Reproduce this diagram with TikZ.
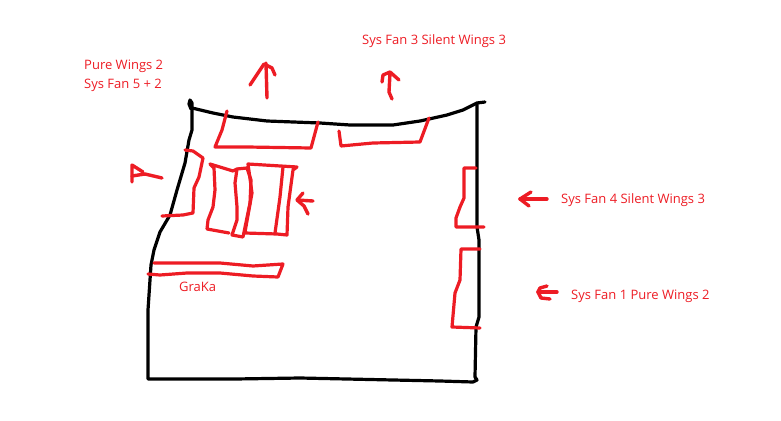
\documentclass[tikz,border=0pt]{standalone}
\usepackage{fontspec}
\setmainfont{Open Sans}
\definecolor{sketchred}{HTML}{ED1C24}

\begin{document}
\begin{tikzpicture}[x=1pt, y=-1pt, line join=round, line cap=round,
		caseline/.style={draw=black, line width=3.2pt},
		fanline/.style={draw=sketchred, line width=3.2pt},
		airflow/.style={draw=sketchred, line width=3.4pt},
		fanlabel/.style={text=sketchred, font=\fontsize{13}{15}\selectfont, anchor=west, inner sep=0pt, align=left}]
		\useasboundingbox (0, 0) rectangle (781, 420);

		\node[fanlabel] (PUR) at (84, 66) {Pure Wings 2};
		\node[fanlabel] (FIV) at (84, 85) {Sys Fan 5 + 2};
		\node[fanlabel] (SYS3) at (362, 41) {Sys Fan 3 Silent Wings 3};
		\node[fanlabel] (SYS4) at (561, 200) {Sys Fan 4 Silent Wings 3};
		\node[fanlabel] (SYS1) at (571, 296) {Sys Fan 1 Pure Wings 2};
		\node[fanlabel] (GRA) at (179, 287) {GraKa};

		% case outline
		\draw[caseline] (191, 109) -- (189, 104) -- (190, 100) -- (192, 103) -- (192, 130) -- (189, 140) -- (185, 163) -- (177, 190) -- (170, 215) -- (160, 232) -- (154, 250) -- (151, 265) -- (150, 280) -- (148, 310) -- (148, 379) -- (235, 379) -- (300, 378) -- (440, 381) -- (473, 382) -- (477, 380) -- (475, 377) -- (476, 327) -- (479, 317) -- (479, 240) -- (477, 227) -- (477, 103);
		\draw[caseline] (192, 108) -- (213, 113) -- (233, 117) -- (267, 121) -- (320, 123) -- (350, 125) -- (393, 125) -- (420, 121) -- (447, 115) -- (463, 110) -- (477, 103) -- (485, 102);

		% top fans
		\draw[fanline] (227, 111) -- (222, 130) -- (215, 147) -- (247, 147) -- (311, 148) -- (318, 122);
		\draw[fanline] (339, 131) -- (341, 146) -- (373, 143) -- (420, 142) -- (429, 118);
		% side fan
		\draw[fanline] (185, 150) -- (193, 151) -- (203, 158) -- (199, 177) -- (194, 188) -- (193, 213) -- (183, 215) -- (162, 216);
		% cooler
		\draw[fanline] (229, 233) -- (207, 229) -- (208, 220) -- (213, 207) -- (215, 190) -- (214, 168) -- (210, 164) -- (233, 171) -- (237, 169) -- (247, 168);
		\draw[fanline] (237, 169) -- (235, 183) -- (237, 207) -- (237, 220) -- (232, 235) -- (243, 237) -- (250, 203) -- (251, 180) -- (247, 168);
		\draw[fanline] (245, 232) -- (252, 193) -- (248, 164) -- (297, 167) -- (293, 170) -- (288, 207) -- (287, 235) -- (277, 234) -- (245, 233);
		\draw[fanline] (283, 167) -- (280, 197) -- (275, 233);
		% graphics card
		\draw[fanline] (154, 263) -- (220, 263) -- (253, 266) -- (283, 264) -- (278, 277) -- (253, 276) -- (220, 273) -- (187, 273) -- (160, 275) -- (148, 274);
		% front fans
		\draw[fanline] (476, 168) -- (464, 168) -- (464, 198) -- (460, 207) -- (456, 218) -- (456, 227) -- (484, 227);
		\draw[fanline] (480, 249) -- (461, 249) -- (460, 280) -- (455, 293) -- (452, 327) -- (480, 328);

		% airflow
		\draw[airflow] (267, 98) -- (266, 63);
		\draw[airflow] (250, 85) -- (264, 64) -- (272, 68) -- (275, 75);
		\draw[airflow] (392, 99) -- (389, 92) -- (390, 73);
		\draw[airflow] (382, 82) -- (383, 75) -- (390, 72) -- (399, 80);
		\draw[airflow] (162, 178) -- (145, 174) -- (132, 176);
		\draw[airflow] (143, 172) -- (132, 165) -- (132, 182);
		\draw[airflow] (313, 201) -- (297, 200);
		\draw[airflow] (303, 193) -- (297, 200) -- (304, 206) -- (308, 214);
		\draw[airflow] (547, 199) -- (520, 199);
		\draw[airflow] (531, 192) -- (520, 199) -- (529, 206);
		\draw[airflow] (557, 292) -- (538, 292);
		\draw[airflow] (547, 286) -- (540, 288) -- (538, 292) -- (541, 298) -- (550, 299);
	\end{tikzpicture}
\end{document}
